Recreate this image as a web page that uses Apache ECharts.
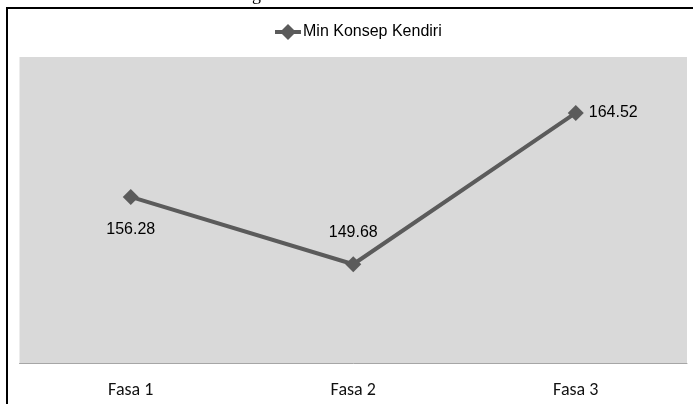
<!DOCTYPE html>
<html>
<head>
<meta charset="utf-8">
<script src="https://cdn.jsdelivr.net/npm/echarts@6/dist/echarts.min.js"></script>
<style>html,body{margin:0;padding:0;background:#fff;}#c{width:693px;height:404px;}</style>
</head>
<body>
<div id="c"></div>
<script>
var categories = ['Fasa 1', 'Fasa 2', 'Fasa 3'];
var seriesName = 'Min Konsep Kendiri';
var values = [156.28, 149.68, 164.52];
var labelPositions = ['bottom', 'top', 'right'];
var labelDistances = [17, 16, 5];

var chart = echarts.init(document.getElementById('c'));
var sans = '"Liberation Sans", Arial, sans-serif';
chart.setOption({
  animation: false,
  backgroundColor: '#ffffff',
  graphic: [
    { type: 'rect', shape: { x: 6, y: 7, width: 2, height: 397 }, style: { fill: '#000' } },
    { type: 'rect', shape: { x: 6, y: 7, width: 687, height: 2 }, style: { fill: '#000' } },
    { type: 'text', left: 252, top: -14, style: { text: 'g', font: '18px "Liberation Serif", serif', fill: '#000' } }
  ],
  legend: {
    top: 19,
    left: 268,
    itemWidth: 26,
    itemHeight: 20,
    itemGap: 0,
    textStyle: { fontFamily: sans, fontSize: 16, color: '#000', padding: [0, 0, 0, -3] },
    data: [{ name: seriesName, lineStyle: { width: 4, color: '#5b5b5b' } }]
  },
  grid: {
    left: 19.5, right: 6, top: 57, bottom: 41,
    show: true, backgroundColor: '#d9d9d9', borderWidth: 0
  },
  xAxis: {
    type: 'category',
    data: categories,
    boundaryGap: true,
    axisLine: { lineStyle: { color: '#a6a6a6', width: 1 } },
    axisTick: { show: false },
    axisLabel: { margin: 18, fontFamily: 'Carlito, Lato, sans-serif', fontSize: 18, color: '#111' }
  },
  yAxis: {
    type: 'value',
    min: 140, max: 170, interval: 10,
    show: false,
    splitLine: { show: false }
  },
  series: [{
    name: seriesName,
    type: 'line',
    data: values.map(function (v, i) {
      return { value: v, label: { position: labelPositions[i], distance: labelDistances[i] } };
    }),
    symbol: 'diamond',
    symbolSize: 16,
    lineStyle: { color: '#5b5b5b', width: 4 },
    itemStyle: { color: '#5b5b5b' },
    label: {
      show: true,
      fontFamily: sans,
      fontSize: 16,
      color: '#000',
      formatter: function (p) { return p.value.toFixed(2); }
    }
  }]
});
</script>
</body>
</html>
